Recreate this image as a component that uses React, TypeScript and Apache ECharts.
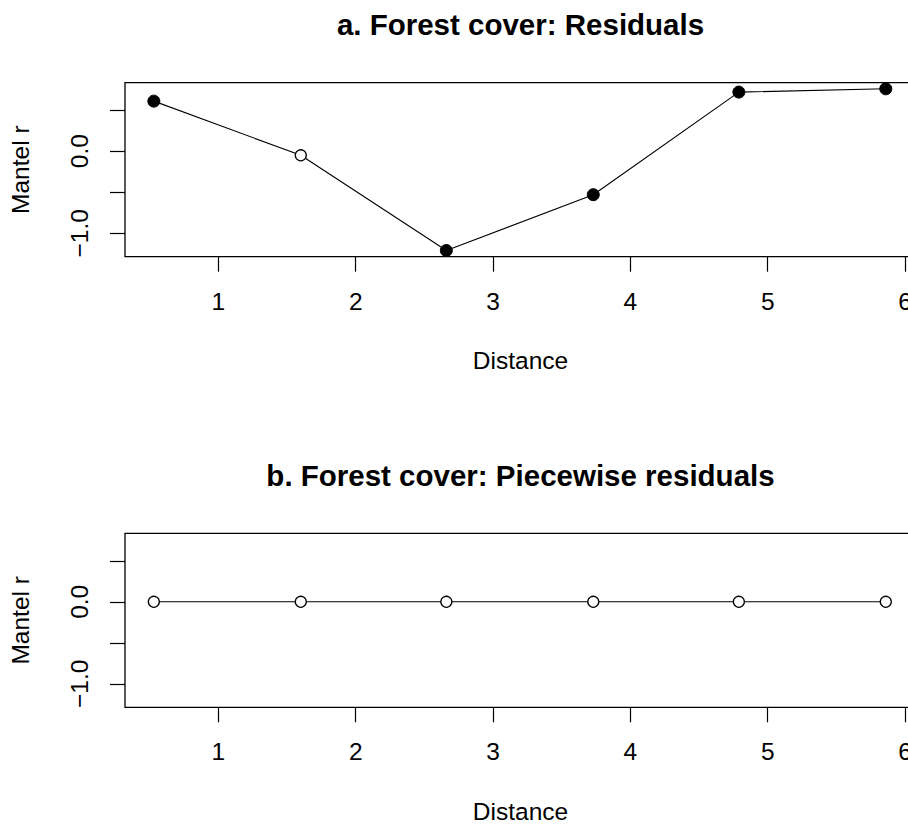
import React, { useEffect, useRef } from "react";
import * as echarts from "echarts";

// Data
const distances = [0.53, 1.6, 2.66, 3.73, 4.79, 5.86];
const residualsA = [0.61, -0.05, -1.21, -0.53, 0.72, 0.76];
const significantA = [true, false, true, true, true, true];
const residualsB = [0, 0, 0, 0, 0, 0];
const significantB = [false, false, false, false, false, false];
const xTicks = [1, 2, 3, 4, 5, 6];
const yTicks = [-1, -0.5, 0, 0.5];
const yLabels = [-1, 0];
const titles = ["a. Forest cover: Residuals", "b. Forest cover: Piecewise residuals"];

const FONT = "'Liberation Sans', Arial, Helvetica, sans-serif";

export default function App() {
  const ref = useRef<HTMLDivElement>(null);
  useEffect(() => {
    if (!ref.current) return;
    const chart = echarts.init(ref.current, null, { renderer: "svg" });
    const gridLeft = 125;
    const gridWidth = 791;
    const gridTops = [82.7, 533.3];
    const gridHeight = 174;
    const panels = [
      { values: residualsA, sig: significantA },
      { values: residualsB, sig: significantB },
    ];
    const fmt = (v: number) => (v < 0 ? "\u2212" + Math.abs(v).toFixed(1) : v.toFixed(1));
    const option: any = {
      animation: false,
      backgroundColor: "#fff",
      textStyle: { fontFamily: FONT },
      grid: gridTops.map((t) => ({
        left: gridLeft,
        top: t,
        width: gridWidth,
        height: gridHeight,
        show: true,
        borderColor: "#000",
        borderWidth: 1.3,
        backgroundColor: "transparent",
        containLabel: false,
        outerBoundsMode: "none",
      })),
      xAxis: gridTops.map((_, i) => ({
        type: "value",
        gridIndex: i,
        min: 0.32,
        max: 6.08,
        axisLine: { show: false, onZero: false },
        splitLine: { show: false },
        axisTick: {
          show: true,
          length: 15,
          customValues: xTicks,
          lineStyle: { color: "#000", width: 1.2 },
        },
        axisLabel: {
          show: true,
          customValues: xTicks,
          fontSize: 24.5,
          color: "#000",
          margin: 32,
          fontFamily: FONT,
          hideOverlap: false,
          formatter: (v: number) => String(v),
        },
        name: "Distance",
        nameLocation: "middle",
        nameGap: 91.5,
        nameTextStyle: { fontSize: 24.5, color: "#000", fontFamily: FONT },
      })),
      yAxis: gridTops.map((_, i) => ({
        type: "value",
        gridIndex: i,
        min: -1.2855,
        max: 0.8345,
        axisLine: { show: false, onZero: false },
        splitLine: { show: false },
        axisTick: {
          show: true,
          length: 15,
          customValues: yTicks,
          lineStyle: { color: "#000", width: 1.2 },
        },
        axisLabel: {
          show: true,
          customValues: yLabels,
          rotate: 90,
          fontSize: 24.5,
          color: "#000",
          margin: 32.75,
          fontFamily: FONT,
          formatter: (v: number) => fmt(v),
        },
        name: "Mantel r",
        nameLocation: "middle",
        nameGap: 92,
        nameRotate: 90,
        nameTextStyle: { fontSize: 24.5, color: "#000", fontFamily: FONT },
      })),
      series: panels.map((p, i) => ({
        type: "line",
        xAxisIndex: i,
        yAxisIndex: i,
        symbol: "circle",
        lineStyle: { color: "#000", width: 1.1 },
        data: distances.map((d, k) => ({
          value: [d, p.values[k]],
          symbolSize: p.sig[k] ? 12 : 11,
          itemStyle: p.sig[k]
            ? { color: "#000", borderColor: "#000", borderWidth: 1 }
            : { color: "#fff", borderColor: "#000", borderWidth: 1.3 },
        })),
        z: 3,
      })),
      graphic: titles.map((t, i) => ({
        type: "text",
        x: gridLeft + gridWidth / 2,
        y: gridTops[i] - 58,
        style: {
          text: t,
          align: "center",
          verticalAlign: "middle",
          font: `bold 29.5px ${FONT}`,
          fill: "#000",
        },
      })),
    };
    chart.setOption(option);
    return () => chart.dispose();
  }, []);
  return (
    <div
      ref={ref}
      style={{ position: "absolute", left: 0, top: 0, width: 908, height: 826, overflow: "hidden" }}
    />
  );
}
